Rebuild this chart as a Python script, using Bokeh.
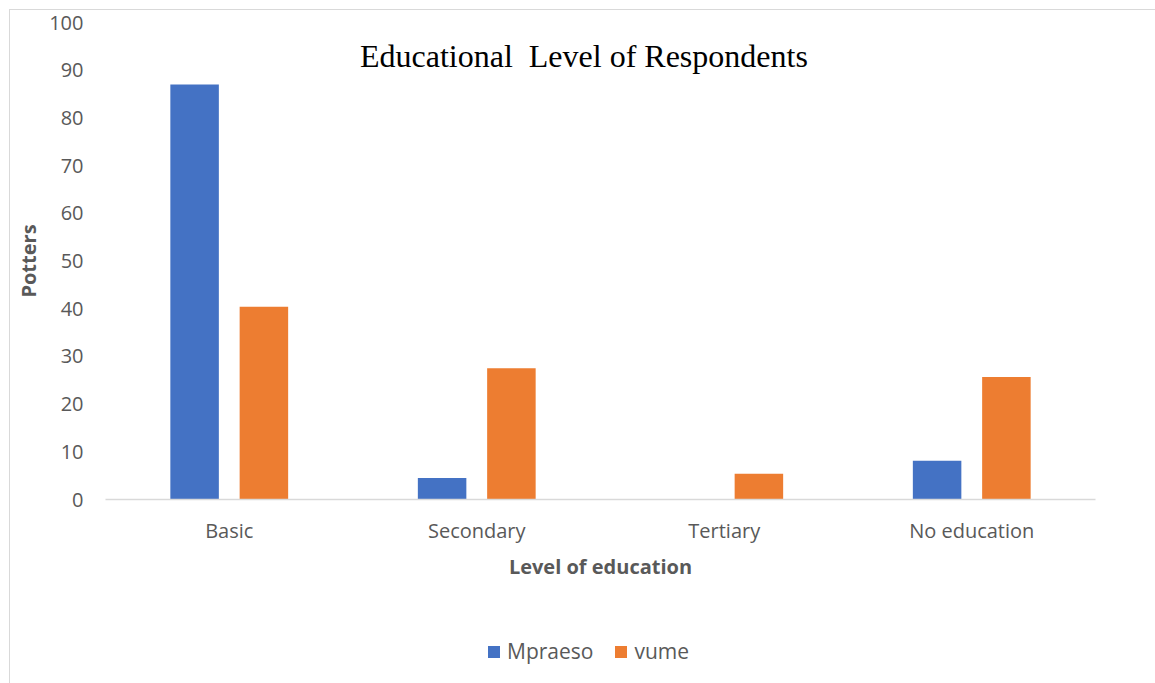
from bokeh.plotting import figure
from bokeh.layouts import column
from bokeh.models import ColumnDataSource, FactorRange, Legend, LegendItem, Label, FixedTicker
from bokeh.transform import dodge
from bokeh.embed import file_html
from bokeh.resources import INLINE

categories = ["Basic", "Secondary", "Tertiary", "No education"]
series_names = ["Mpraeso", "vume"]
mpraeso = [87.0, 4.5, 0.0, 8.1]
vume = [40.4, 27.5, 5.4, 25.7]
y_ticks = [0, 10, 20, 30, 40, 50, 60, 70, 80, 90, 100]
title_text = "Educational\u00a0 Level of Respondents"
x_label = "Level of education"
y_label = "Potters"

BLUE = "#4472C4"
ORANGE = "#ED7D31"
GREY = "#595959"
SANS = "Open Sans"

source = ColumnDataSource(data=dict(cat=categories, mpraeso=mpraeso, vume=vume))

p = figure(
    x_range=FactorRange(*categories, range_padding=0),
    y_range=(0, 100),
    width=1145, height=590,
    output_backend="svg", toolbar_location=None,
    min_border_left=95, min_border_right=60, min_border_top=12, min_border_bottom=101,
)
p.outline_line_color = None
p.xgrid.grid_line_color = None
p.ygrid.grid_line_color = None

r1 = p.vbar(x=dodge("cat", -0.14, range=p.x_range), top="mpraeso", width=0.196,
            source=source, fill_color=BLUE, line_color=None)
r2 = p.vbar(x=dodge("cat", 0.14, range=p.x_range), top="vume", width=0.196,
            source=source, fill_color=ORANGE, line_color=None)

# axes
p.yaxis.ticker = FixedTicker(ticks=y_ticks)
p.yaxis.axis_line_color = None
p.yaxis.major_tick_line_color = None
p.yaxis.major_tick_out = 0
p.yaxis.major_tick_in = 0
p.yaxis.minor_tick_line_color = None
p.yaxis.major_label_standoff = 22
p.yaxis.major_label_text_font = SANS
p.yaxis.major_label_text_font_size = "20px"
p.yaxis.major_label_text_color = GREY
p.yaxis.axis_label = y_label
p.yaxis.axis_label_text_font = SANS
p.yaxis.axis_label_text_font_size = "20px"
p.yaxis.axis_label_text_font_style = "bold"
p.yaxis.axis_label_text_color = GREY
p.yaxis.axis_label_standoff = 4

p.xaxis.axis_line_color = "#d9d9d9"
p.xaxis.axis_line_width = 1.5
p.xaxis.major_tick_line_color = None
p.xaxis.minor_tick_line_color = None
p.xaxis.major_label_standoff = 11
p.xaxis.major_label_text_font = SANS
p.xaxis.major_label_text_font_size = "20px"
p.xaxis.major_label_text_color = GREY
p.xaxis.axis_label = x_label
p.xaxis.axis_label_text_font = SANS
p.xaxis.axis_label_text_font_size = "20px"
p.xaxis.axis_label_text_font_style = "bold"
p.xaxis.axis_label_text_color = GREY
p.xaxis.axis_label_standoff = 6

title = Label(x=1.933, y=92.9, text=title_text, text_align="center", text_baseline="alphabetic",
              text_font="Liberation Serif", text_font_size="32px", text_color="#000000")
p.add_layout(title)

# legend strip below the chart
q = figure(width=1145, height=83, x_range=(0, 1), y_range=(0, 1),
           output_backend="svg", toolbar_location=None,
           x_axis_location=None, y_axis_location=None,
           min_border_left=0, min_border_right=0, min_border_top=0, min_border_bottom=0)
q.outline_line_color = None
q.xgrid.grid_line_color = None
q.ygrid.grid_line_color = None
# legend keys only (placed outside the visible range of this strip)
q1 = q.vbar(x=[-5], top=[0], width=0.1, fill_color=BLUE, line_color=None)
q2 = q.vbar(x=[-5], top=[0], width=0.1, fill_color=ORANGE, line_color=None)

legend = Legend(items=[LegendItem(label=series_names[0], renderers=[q1]),
                       LegendItem(label=series_names[1], renderers=[q2])],
                orientation="horizontal", location=(381, 18),
                glyph_width=15, glyph_height=15, label_standoff=6, spacing=20,
                padding=0, margin=0, border_line_color=None, background_fill_alpha=0,
                label_text_font=SANS, label_text_font_size="21px", label_text_color=GREY)
q.add_layout(legend, "center")

layout = column(p, q, spacing=0)
layout.margin = (9, 0, 0, 9)
layout.styles = {"border-top": "1px solid #d9d9d9", "border-left": "1px solid #d9d9d9"}

open("out.html", "w").write(file_html(layout, INLINE))
